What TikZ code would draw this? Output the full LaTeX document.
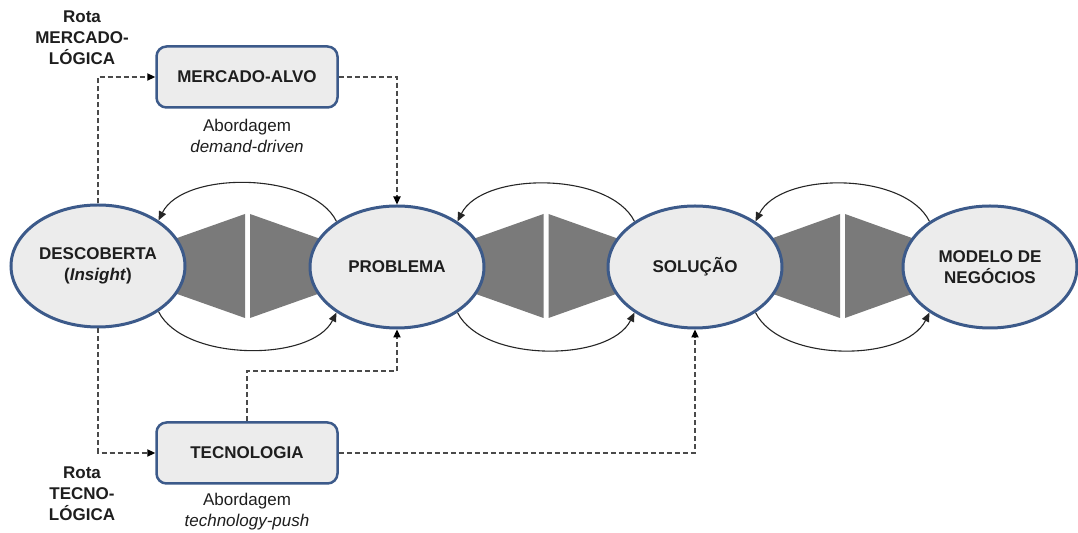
\documentclass[tikz,border=0pt]{standalone}
\usepackage{fontspec}
\setmainfont{Liberation Sans}
\usetikzlibrary{shapes.geometric,arrows.meta}

\definecolor{nodeblue}{HTML}{3C5A8A}
\definecolor{nodefill}{HTML}{ECECEC}
\definecolor{wedge}{HTML}{7A7A7A}
\definecolor{dashgray}{HTML}{4A4A4A}
\definecolor{txt}{HTML}{1E1E1E}

\begin{document}
\begin{tikzpicture}[x=0.5pt,y=-0.5pt,
  stage/.style={ellipse, draw=nodeblue, line width=1.5pt, fill=nodefill,
    minimum width=87pt, minimum height=61pt, inner sep=0pt,
    font=\fontsize{8.5}{10.5}\selectfont\bfseries, text=txt, align=center},
  card/.style={rectangle, rounded corners=5pt, draw=nodeblue, line width=1.25pt,
    fill=nodefill, minimum width=90.5pt, minimum height=30.5pt, inner sep=0pt,
    font=\fontsize{8.5}{10.5}\selectfont\bfseries, text=txt},
  route/.style={align=center, inner sep=0pt, text=txt,
    font=\fontsize{8.5}{10.5}\selectfont\bfseries},
  approach/.style={align=center, inner sep=0pt, text=txt,
    font=\fontsize{8.5}{10.5}\selectfont},
  loop/.style={line width=0.55pt, draw=black!85,
    -{Triangle[length=4.5pt,width=3.8pt]}},
  flow/.style={line width=0.75pt, draw=dashgray, dash pattern=on 2.5pt off 1.5pt,
    -{Triangle[length=4pt,width=3.6pt,fill=black,color=black]}}]

\useasboundingbox (0,0) rectangle (1078,533);

% bow-tie wedges between consecutive stages
\foreach \a/\b in {98/397, 397/695, 695/990} {
  \pgfmathsetmacro\m{(\a+\b)/2}
  \fill[wedge] (\a,266) -- (\m-2.5,214) -- (\m-2.5,318) -- cycle;
  \fill[wedge] (\b,266) -- (\m+2.5,214) -- (\m+2.5,318) -- cycle;
}

% stages
\node[stage] (d) at (98,266) {DESCOBERTA\\(\textit{Insight})};
\node[stage] (p) at (397,267) {PROBLEMA};
\node[stage] (s) at (695,267) {SOLUÇÃO};
\node[stage] (n) at (990,267) {MODELO DE\\NEGÓCIOS};

% entry boxes
\node[card] (m) at (247,77) {MERCADO-ALVO};
\node[card] (t) at (247,453) {TECNOLOGIA};

% labels
\node[route] (rm) at (82,38) {Rota\\MERCADO-\\LÓGICA};
\node[route] (rt) at (82,494) {Rota\\TECNO-\\LÓGICA};
\node[approach] (am) at (247,136) {Abordagem\\\textit{demand-driven}};
\node[approach] (at) at (247,512) {Abordagem\\\textit{technology-push}};

% feedback (top) and forward (bottom) loops
\draw[loop] (p.143) .. controls +(-25,-50) and +(25,-50) .. (d.37);
\draw[loop] (d.-37) .. controls +(25,50) and +(-25,50) .. (p.-143);
\draw[loop] (s.143) .. controls +(-25,-50) and +(25,-50) .. (p.37);
\draw[loop] (p.-37) .. controls +(25,50) and +(-25,50) .. (s.-143);
\draw[loop] (n.143) .. controls +(-25,-50) and +(25,-50) .. (s.37);
\draw[loop] (s.-37) .. controls +(25,50) and +(-25,50) .. (n.-143);

% dashed routes
\draw[flow] (d.north) |- (m.west);
\draw[flow] (m.east) -| (p.north);
\draw[flow] (d.south) |- (t.west);
\draw[flow] (t.north) -- ++(0,-50) -| (p.south);
\draw[flow] (t.east) -| (s.south);

\end{tikzpicture}
\end{document}
